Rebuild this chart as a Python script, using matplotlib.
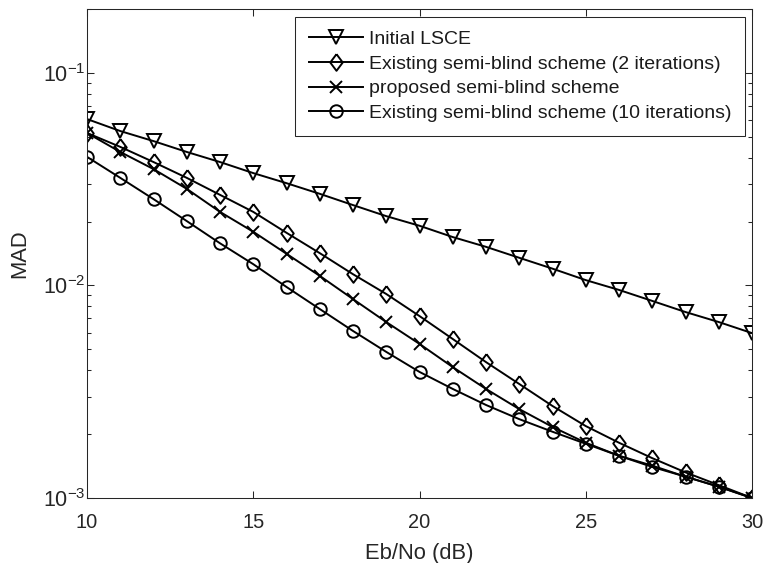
import matplotlib
matplotlib.use("Agg")
import matplotlib.pyplot as plt
from matplotlib.ticker import LogLocator, NullFormatter, FixedLocator

plt.rcParams["font.family"] = ["Liberation Sans", "DejaVu Sans"]
plt.rcParams["mathtext.default"] = "regular"

# ── dati ───────────────────────────────────────────────────────────────────
ebno = [10, 11, 12, 13, 14, 15, 16, 17, 18, 19, 20,
        21, 22, 23, 24, 25, 26, 27, 28, 29, 30]

mad_lsce = [0.0607, 0.0533, 0.0478, 0.0425, 0.0381, 0.0338, 0.0303, 0.0270,
            0.0239, 0.0212, 0.0191, 0.0169, 0.0152, 0.0135, 0.0120, 0.0106,
            0.00953, 0.00846, 0.00750, 0.00673, 0.00597]

mad_existing_2 = [0.0522, 0.0449, 0.0381, 0.0321, 0.0267, 0.0222, 0.0177,
                  0.0142, 0.0113, 0.00912, 0.00718, 0.00560, 0.00436, 0.00344,
                  0.00271, 0.00218, 0.00182, 0.00154, 0.00132, 0.00115, 0.00100]

mad_proposed = [0.0522, 0.0425, 0.0353, 0.0285, 0.0222, 0.0179, 0.0141,
                0.0111, 0.00863, 0.00673, 0.00531, 0.00413, 0.00326, 0.00262,
                0.00216, 0.00182, 0.00158, 0.00142, 0.00126, 0.00113, 0.00100]

mad_existing_10 = [0.0403, 0.0321, 0.0255, 0.0201, 0.0158, 0.0126, 0.00984,
                   0.00775, 0.00611, 0.00487, 0.00392, 0.00326, 0.00274,
                   0.00235, 0.00205, 0.00180, 0.00158, 0.00140, 0.00126,
                   0.00113, 0.00100]

labels = ["Initial LSCE",
          "Existing semi-blind scheme (2 iterations)",
          "proposed semi-blind scheme",
          "Existing semi-blind scheme (10 iterations)"]

# diamante stile MATLAB (piu' alto che largo)
diamond = [(0, 1), (0.75, 0), (0, -1), (-0.75, 0), (0, 1)]

fig = plt.figure(figsize=(7.65, 5.63), dpi=100)
ax = fig.add_axes([87 / 765, 65 / 563, 665 / 765, 489 / 563])

lw = 1.4
ax.plot(ebno, mad_lsce, color="k", lw=lw, marker="v", ms=10.5,
        mfc="none", mew=lw, label=labels[0])
ax.plot(ebno, mad_existing_2, color="k", lw=lw, marker=diamond, ms=12,
        mfc="none", mew=lw, label=labels[1])
ax.plot(ebno, mad_proposed, color="k", lw=lw, marker="x", ms=9,
        mfc="none", mew=lw, label=labels[2])
ax.plot(ebno, mad_existing_10, color="k", lw=lw, marker="o", ms=9,
        mfc="none", mew=lw, label=labels[3])

ax.set_yscale("log")
ax.set_xlim(10, 30)
ax.set_ylim(1e-3, 0.2)
ax.xaxis.set_major_locator(FixedLocator([10, 15, 20, 25, 30]))
ax.yaxis.set_major_locator(LogLocator(base=10, numticks=10))
ax.yaxis.set_minor_locator(LogLocator(base=10, subs=range(2, 10), numticks=20))
ax.yaxis.set_minor_formatter(NullFormatter())

axcol = "#262626"
for s in ax.spines.values():
    s.set_linewidth(0.75)
    s.set_color(axcol)
ax.tick_params(which="both", direction="in", top=True, right=True,
               colors=axcol, labelcolor=axcol, width=0.75)
ax.tick_params(which="major", length=5, labelsize=14.4)
ax.tick_params(which="minor", length=3)
ax.tick_params(axis="x", pad=11)
ax.tick_params(axis="y", pad=1, labelsize=15.5)

ax.set_xlabel("Eb/No (dB)", fontsize=15.8, color=axcol, labelpad=8)
ax.set_ylabel("MAD", fontsize=15.8, color=axcol, labelpad=9)

leg = ax.legend(loc="upper right", bbox_to_anchor=(745 / 765, 1 - 17 / 563),
                bbox_transform=fig.transFigure, borderaxespad=0,
                fontsize=14.0, handlelength=2.8, handletextpad=0.3,
                borderpad=0.7, labelspacing=0.36, fancybox=False,
                framealpha=1, edgecolor=axcol)
leg.get_frame().set_linewidth(0.75)
for t in leg.get_texts():
    t.set_color("#1a1a1a")

fig.savefig("out.png", dpi=100)
